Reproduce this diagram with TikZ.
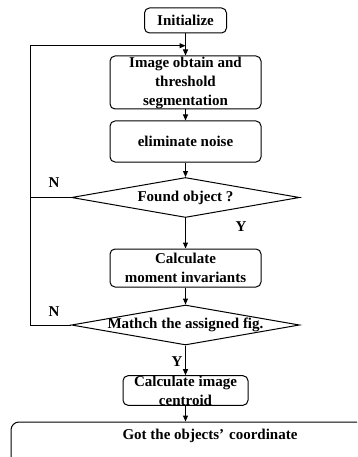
\documentclass[tikz,border=0pt]{standalone}
\usepackage{fontspec}
\setmainfont{Liberation Serif}
\usetikzlibrary{arrows.meta,shapes.geometric}
\begin{document}
\begin{tikzpicture}[x=1pt,y=-1pt,
  font=\fontsize{15}{19}\selectfont\bfseries,
  box/.style={draw, rounded corners=5pt, line width=1pt, align=center, inner sep=0pt},
  dec/.style={draw, diamond, line width=1pt, inner sep=0pt, minimum width=228pt, minimum height=40pt},
  line/.style={line width=1pt},
  arr/.style={line, -{Triangle[length=6pt,width=5pt]}},
  lbl/.style={inner sep=0pt}]
\useasboundingbox (0,0) rectangle (357,457);
\clip (0,0) rectangle (357,457);
% nodes
\node[box, minimum width=82pt, minimum height=25pt] (init) at (185.5,20.5) {Initialize};
\node[box, minimum width=151pt, minimum height=53pt] (img) at (185.5,82.5) {Image obtain and\\threshold\\segmentation};
\node[box, minimum width=151pt, minimum height=41pt] (elim) at (185.5,141.5) {eliminate noise};
\node[dec] (d1) at (185.5,197.5) {};
\node[lbl] (d1t) at (d1) {Found object ?};
\node[box, minimum width=151pt, minimum height=38pt] (mom) at (185.5,268) {Calculate\\moment invariants};
\node[dec] (d2) at (185.5,325) {};
\node[lbl] (d2t) at (d2) {Mathch the assigned fig.};
\node[box, minimum width=125pt, minimum height=27pt] (cen) at (185.5,390.5) {Calculate image\\centroid};
\node[box, rounded corners=8pt, minimum width=398pt, minimum height=48pt] (fin) at (210,446) {};
\node[lbl] (fint) at (210,436) {Got the objects’\,\,coordinate};
% labels
\node[lbl] (n1) at (54,183) {N};
\node[lbl] (y1) at (241,227) {Y};
\node[lbl] (n2) at (54,312) {N};
\node[lbl] (y2) at (177,362) {Y};
% loop coordinates
\coordinate (lt) at (30,45.7);
\coordinate (tip) at (185.5,45.7);
% connectors
\draw[arr] (init) -- (img);
\draw[arr] (img) -- (elim);
\draw[arr] (elim) -- (d1);
\draw[arr] (d1) -- (mom);
\draw[arr] (mom) -- (d2);
\draw[arr] (d2) -- (cen);
\draw[arr] (cen.south) -- (cen.south |- fin.north);
\draw[arr] (d2.west) -- (d2.west -| lt) -- (lt) -- (tip);
\draw[line] (d1.west) -- (d1.west -| lt);
\end{tikzpicture}
\end{document}
